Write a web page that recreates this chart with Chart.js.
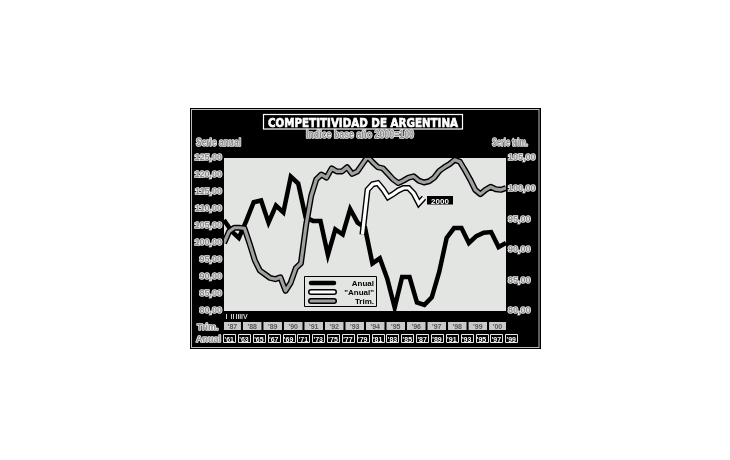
<!DOCTYPE html>
<html>
<head>
<meta charset="utf-8">
<script src="https://cdn.jsdelivr.net/npm/chart.js@4.4.1/dist/chart.umd.min.js"></script>
<style>
html, body { margin: 0; padding: 0; background: #fff; }
canvas { display: block; }
</style>
</head>
<body>
<canvas id="myChart" width="730" height="460"></canvas>
<script>
// serie anual (eje izquierdo)
const anualYears = [1961, 1962, 1963, 1964, 1965, 1966, 1967, 1968, 1969, 1970,
  1971, 1972, 1973, 1974, 1975, 1976, 1977, 1978, 1979, 1980,
  1981, 1982, 1983, 1984, 1985, 1986, 1987, 1988, 1989, 1990,
  1991, 1992, 1993, 1994, 1995, 1996, 1997, 1998, 1999];
const anualValues = [106.8, 103.5, 101.5, 106.5, 112, 112.5, 106, 111, 109, 119.5,
  117.5, 107.5, 106.5, 106.5, 96.5, 104, 102.5, 110, 106, 104.5,
  94, 95.5, 89.5, 81, 90, 90, 82.5, 81.8, 84, 91.5,
  101.5, 104.4, 104.4, 100, 102, 103, 103.2, 98.8, 100];

// serie trimestral 1987 I - 2000 IV (eje derecho)
const trimValues = [91.1, 93, 93.6, 93.6, 93.5, 91, 88.3, 86.6, 86, 85.4,
  85.2, 85.5, 83.3, 84.6, 87, 87.8, 94, 98.8, 101.5, 102.3,
  101.8, 103.3, 102.8, 102.8, 103.5, 102.4, 102.8, 104, 105.2, 104.3,
  103.5, 103.3, 102.4, 101.5, 100.9, 101.3, 101.8, 102, 101.3, 101,
  101.2, 101.8, 102.9, 103.5, 104, 104.7, 104.4, 103, 101.5, 99.8,
  99.1, 99.8, 100.3, 99.9, 99.8, 100.1];

// "Anual" base 2000, por trimestre (indice de trimestre desde 1987 I)
const anual2000Quarters = [27, 28, 29, 30, 31, 32, 33, 34, 35, 36, 37, 38, 39];
const anual2000Values = [92.5, 99.8, 100.7, 100.9, 99.9, 98.6, 99.1, 99.7, 100.1, 100.1, 99.2, 97.6, 98.5];

const trimLabels = ["'87", "'88", "'89", "'90", "'91", "'92", "'93", "'94", "'95", "'96", "'97", "'98", "'99", "'00"];
const anualLabels = ["'61", "'63", "'65", "'67", "'69", "'71", "'73", "'75", "'77", "'79",
  "'81", "'83", "'85", "'87", "'89", "'91", "'93", "'95", "'97", "'99"];
const quarterLabels = ['I', 'II', 'III', 'IV'];

const anualData = anualYears.map((y, i) => ({ x: y, y: anualValues[i] }));
const trimData = trimValues.map((v, i) => ({ x: i, y: v }));
const anual2000Data = anual2000Quarters.map((q, i) => ({ x: q, y: anual2000Values[i] }));

const GRAY = '#a0a0a0';
const FONT = '"Liberation Sans", Arial, sans-serif';

function fitText(ctx, text, x, y, w, align, stroke) {
  const m = ctx.measureText(text).width;
  const s = Math.min(1, w / m);
  ctx.save();
  ctx.translate(x, y);
  ctx.scale(s, 1);
  ctx.textAlign = align || 'left';
  if (stroke) ctx.strokeText(text, 0, 0);
  ctx.fillText(text, 0, 0);
  ctx.restore();
}

function outlined(ctx) {
  ctx.strokeStyle = '#f0f0f0';
  ctx.lineWidth = 1.6;
  ctx.lineJoin = 'round';
  ctx.fillStyle = '#8c8c8c';
}

const framePlugin = {
  id: 'frame',
  beforeDraw(chart) {
    const ctx = chart.ctx, a = chart.chartArea;
    ctx.save();
    ctx.fillStyle = '#fff';
    ctx.fillRect(0, 0, chart.width, chart.height);
    ctx.fillStyle = '#000';
    ctx.fillRect(190, 108, 351, 241);
    ctx.strokeStyle = '#bdbdbd';
    ctx.lineWidth = 1;
    ctx.strokeRect(191.5, 109.5, 347.5, 238);
    ctx.fillStyle = '#e3e5e3';
    ctx.fillRect(a.left, a.top, a.right - a.left, a.bottom - a.top);

    // titulo
    ctx.strokeStyle = '#fff';
    ctx.lineWidth = 1.2;
    ctx.strokeRect(263.5, 114.5, 199, 14.5);
    ctx.fillStyle = '#fff';
    ctx.lineWidth = 0.7;
    ctx.font = 'bold 13px "DejaVu Sans", ' + FONT;
    fitText(ctx, 'COMPETITIVIDAD DE ARGENTINA', 363, 126.5, 190, 'center', true);

    ctx.font = 'bold 10px ' + FONT;
    outlined(ctx);
    fitText(ctx, 'Indice base año 2000=100', 360, 138, 108, 'center', true);
    fitText(ctx, 'Serie anual', 196, 146, 45, 'left', true);
    fitText(ctx, 'Serie trim.', 492, 146, 36, 'left', true);
    ctx.restore();
  },
  afterDraw(chart) {
    const ctx = chart.ctx, a = chart.chartArea;
    const xs = chart.scales.x, xq = chart.scales.x2;
    ctx.save();

    // filas de años
    ctx.font = 'bold 9px ' + FONT;
    outlined(ctx);
    fitText(ctx, 'Trim.', 197, 330, 22, 'left', true);
    fitText(ctx, 'Anual', 196, 342, 25, 'left', true);

    ctx.font = 'bold 7px ' + FONT;
    ctx.fillStyle = '#d0d0d0';
    ctx.textAlign = 'center';
    quarterLabels.forEach((q, i) => {
      ctx.fillText(q, xq.getPixelForValue(i) + 2.5 + i * 0.8, 318.5);
    });

    trimLabels.forEach((lab, k) => {
      const x0 = Math.max(xq.getPixelForValue(4 * k - 0.5) + 1, a.left);
      const x1 = Math.min(xq.getPixelForValue(4 * k + 3.5) - 1, a.right);
      ctx.fillStyle = '#c9c9c9';
      ctx.fillRect(x0, 322, x1 - x0, 8);
      ctx.fillStyle = '#555';
      ctx.font = 'bold 7px ' + FONT;
      ctx.textAlign = 'center';
      ctx.fillText(lab, (x0 + x1) / 2, 328.5);
    });

    anualLabels.forEach((lab, k) => {
      const cx = xs.getPixelForValue(anualYears[0] + 2 * k + 0.7);
      ctx.strokeStyle = '#e8e8e8';
      ctx.lineWidth = 1;
      ctx.strokeRect(Math.round(cx - 6) + 0.5, 334.5, 12, 8);
      ctx.fillStyle = '#fff';
      ctx.font = 'bold 7px ' + FONT;
      ctx.textAlign = 'center';
      ctx.fillText(lab, cx, 341.5);
    });

    // leyenda
    ctx.fillStyle = '#e3e5e3';
    ctx.fillRect(304.5, 276.5, 72, 30);
    ctx.strokeStyle = '#000';
    ctx.lineWidth = 1;
    ctx.strokeRect(304.5, 276.5, 72, 30);
    const rows = [
      { y: 283, text: 'Anual', out: null, w: 4 },
      { y: 292, text: '"Anual"', out: '#fff', w: 3 },
      { y: 301, text: 'Trim.', out: GRAY, w: 3 }
    ];
    ctx.lineCap = 'round';
    rows.forEach(r => {
      ctx.beginPath();
      ctx.moveTo(311, r.y);
      ctx.lineTo(334, r.y);
      ctx.strokeStyle = '#000';
      ctx.lineWidth = r.out ? 6 : 4.5;
      ctx.stroke();
      if (r.out) {
        ctx.strokeStyle = r.out;
        ctx.lineWidth = r.w;
        ctx.stroke();
      }
      ctx.fillStyle = '#000';
      ctx.font = 'bold 8px ' + FONT;
      ctx.textAlign = 'right';
      ctx.fillText(r.text, 374, r.y + 3);
    });

    // etiqueta 2000
    ctx.fillStyle = '#000';
    ctx.fillRect(427, 196, 26, 8.5);
    ctx.fillStyle = '#fff';
    ctx.font = 'bold 8px ' + FONT;
    ctx.textAlign = 'center';
    ctx.fillText('2000', 440, 203.5);
    ctx.restore();
  }
};

const tickFmt = v => v.toFixed(2).replace('.', ',');
const tickStyle = {
  stepSize: 5, padding: 2, callback: tickFmt, color: '#8c8c8c',
  textStrokeColor: '#f0f0f0', textStrokeWidth: 1.6,
  font: { family: FONT, size: 9, weight: 'bold' }
};

new Chart(document.getElementById('myChart'), {
  type: 'line',
  data: {
    datasets: [
      { data: anualData, xAxisID: 'x', yAxisID: 'y', borderColor: '#000', borderWidth: 4.5,
        pointRadius: 0, borderJoinStyle: 'miter', order: 5 },
      { data: trimData, xAxisID: 'x2', yAxisID: 'y2', borderColor: '#000', borderWidth: 6,
        pointRadius: 0, borderJoinStyle: 'round', order: 4 },
      { data: trimData, xAxisID: 'x2', yAxisID: 'y2', borderColor: GRAY, borderWidth: 3.2,
        pointRadius: 0, borderJoinStyle: 'round', order: 3 },
      { data: anual2000Data, xAxisID: 'x2', yAxisID: 'y2', borderColor: '#000', borderWidth: 6,
        pointRadius: 0, borderJoinStyle: 'miter', order: 2 },
      { data: anual2000Data, xAxisID: 'x2', yAxisID: 'y2', borderColor: '#fff', borderWidth: 3.2,
        pointRadius: 0, borderJoinStyle: 'miter', order: 1 }
    ]
  },
  options: {
    responsive: false,
    animation: false,
    devicePixelRatio: 1,
    layout: { padding: { top: 158, bottom: 149, left: 0, right: 0 } },
    plugins: { legend: { display: false }, tooltip: { enabled: false } },
    scales: {
      x: { type: 'linear', min: 1961, max: 1999, display: false },
      x2: { type: 'linear', min: 0, max: 55, display: false },
      y: {
        position: 'left', min: 80, max: 125,
        afterFit: s => { s.width = 224; },
        grid: { display: false, drawTicks: false },
        border: { display: false },
        ticks: tickStyle
      },
      y2: {
        position: 'right', min: 80, max: 105,
        afterFit: s => { s.width = 224; },
        grid: { display: false, drawTicks: false },
        border: { display: false },
        ticks: tickStyle
      }
    }
  },
  plugins: [framePlugin]
});
</script>
</body>
</html>
